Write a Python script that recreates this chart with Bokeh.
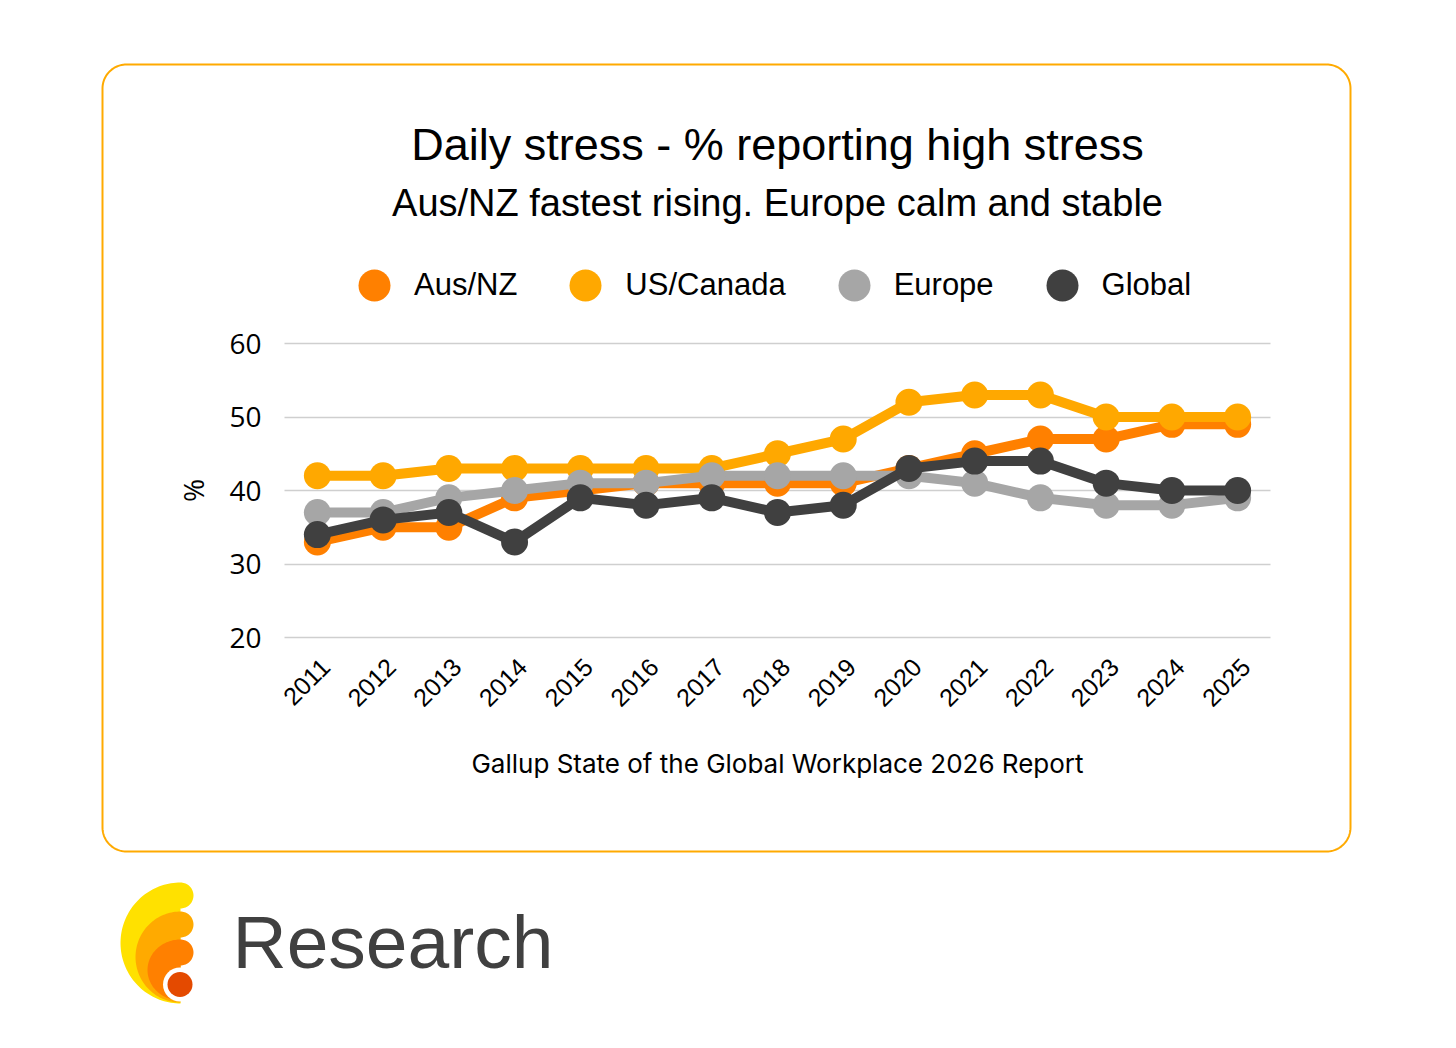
import numpy as np
from math import pi
from bokeh.plotting import figure
from bokeh.models import (Range1d, FixedTicker, Legend, LegendItem, Label,
                          LinearAxis)
from bokeh.embed import file_html
from bokeh.resources import INLINE

# ---------------- data ----------------
years = [2011, 2012, 2013, 2014, 2015, 2016, 2017, 2018, 2019, 2020,
         2021, 2022, 2023, 2024, 2025]
aus_nz = [33, 35, 35, 39, 40, 41, 41, 41, 41, 43, 45, 47, 47, 49, 49]
us_canada = [42, 42, 43, 43, 43, 43, 43, 45, 47, 52, 53, 53, 50, 50, 50]
europe = [37, 37, 39, 40, 41, 41, 42, 42, 42, 42, 41, 39, 38, 38, 39]
global_ = [34, 36, 37, 33, 39, 38, 39, 37, 38, 43, 44, 44, 41, 40, 40]
y_ticks = [20, 30, 40, 50, 60]

series_names = ["Aus/NZ", "US/Canada", "Europe", "Global"]
series_values = [aus_nz, us_canada, europe, global_]
series_colors = ["#FF8000", "#FFA800", "#A6A6A6", "#404040"]

title_text = "Daily stress - % reporting high stress"
subtitle_text = "Aus/NZ fastest rising. Europe calm and stable"
source_text = "Gallup State of the Global Workplace 2026 Report"
brand_text = "Research"

# ---------------- page geometry (pixels) ----------------
W, H = 1456, 1040
PLOT_L, PLOT_R = 284, 1270      # pixel span of x in [first-0.5, last+0.5]
PLOT_T, PLOT_B = 343, 637       # pixel span of y in [60, 20]

x0d, x1d = years[0] - 0.5, years[-1] + 0.5
xs_px = (PLOT_R - PLOT_L) / (x1d - x0d)
ys_px = (PLOT_B - PLOT_T) / (max(y_ticks) - min(y_ticks))
x_range = Range1d(x0d - PLOT_L / xs_px, x1d + (W - PLOT_R) / xs_px)
y_range = Range1d(min(y_ticks) - (H - PLOT_B) / ys_px,
                  max(y_ticks) + PLOT_T / ys_px)

p = figure(width=W, height=H, x_range=x_range, y_range=y_range,
           x_axis_location=None, y_axis_location=None,
           output_backend="svg", toolbar_location=None,
           min_border=0, min_border_left=0, min_border_right=0,
           min_border_top=0, min_border_bottom=0)
p.outline_line_color = None
p.background_fill_color = "white"
p.border_fill_color = "white"
p.grid.visible = False
p.extra_x_ranges = {"px": Range1d(0, W),
                    "xlab": Range1d(x_range.start - 8 / xs_px,
                                    x_range.end - 8 / xs_px)}
p.extra_y_ranges = {"px": Range1d(H, 0)}

# x axis (rotated year labels)
xax = LinearAxis(x_range_name="xlab", ticker=FixedTicker(ticks=years),
                 fixed_location=min(y_ticks))
xax.major_label_orientation = pi / 4
xax.major_label_text_font = "Liberation Sans"
xax.major_label_text_font_size = "25px"
xax.major_label_text_color = "black"
xax.major_label_standoff = 19
xax.axis_line_color = None
xax.major_tick_line_color = None
xax.minor_tick_line_color = None
p.add_layout(xax, "below")

# y axis; its inward major ticks form the horizontal gridlines
yax = LinearAxis(ticker=FixedTicker(ticks=y_ticks), fixed_location=x0d,
                 bounds=(min(y_ticks), max(y_ticks)), level="underlay")
yax.major_label_text_font = "Open Sans"
yax.major_label_text_font_size = "28px"
yax.major_label_text_color = "black"
yax.major_label_standoff = 23
yax.axis_line_color = None
yax.major_tick_in = PLOT_R - PLOT_L
yax.major_tick_out = 0
yax.major_tick_line_color = "#CFCFCF"
yax.major_tick_line_width = 1.5
yax.minor_tick_line_color = None
yax.axis_label = "%"
yax.axis_label_text_font = "Open Sans"
yax.axis_label_text_font_size = "28px"
yax.axis_label_text_font_style = "normal"
yax.axis_label_text_color = "black"
yax.axis_label_standoff = 14
p.add_layout(yax, "left")

# ---------------- card, titles ----------------


def rounded_rect(x0, y0, x1, y1, r):
    xs, ys = [], []
    corners = [(x1 - r, y0 + r, -pi / 2, 0), (x1 - r, y1 - r, 0, pi / 2),
               (x0 + r, y1 - r, pi / 2, pi), (x0 + r, y0 + r, pi, 1.5 * pi)]
    for cx, cy, a0, a1 in corners:
        a = np.linspace(a0, a1, 24)
        xs += list(cx + r * np.cos(a))
        ys += list(cy + r * np.sin(a))
    xs.append(xs[0])
    ys.append(ys[0])
    return xs, ys


cx_, cy_ = rounded_rect(102, 64, 1350, 851, 24)
p.line(cx_, cy_, line_color="#FFAA00", line_width=2,
       x_range_name="px", y_range_name="px")

BASE_SHIFT = 0.36   # Bokeh's rendered baseline sits this many em lower


def add_text(x, baseline, text, size, font, color="black", align="center"):
    p.add_layout(Label(x=x, y=baseline - BASE_SHIFT * size, text=text,
                       x_range_name="px", y_range_name="px",
                       text_align=align, text_baseline="alphabetic",
                       text_font=font, text_font_size=f"{size}px",
                       text_color=color))


add_text(777, 160, title_text, 45, "Liberation Sans")
add_text(777, 216, subtitle_text, 38, "Liberation Sans")
add_text(777, 772, source_text, 26, "Inter")

# ---------------- data series ----------------
markers = []
for name, vals, col in zip(series_names, series_values, series_colors):
    p.line(years, vals, line_width=10, line_color=col, line_join="round",
           line_cap="round")
    r = p.scatter(years, vals, size=27, fill_color=col, line_color=col,
                  line_width=0)
    markers.append(r)

legend = Legend(items=[LegendItem(label=n, renderers=[r])
                       for n, r in zip(series_names, markers)],
                orientation="horizontal", location=(334, H - 325),
                glyph_width=80, glyph_height=80, label_standoff=0,
                spacing=28, padding=0, margin=0,
                border_line_color=None, background_fill_alpha=0,
                label_text_font="Liberation Sans",
                label_text_font_size="31px", label_text_color="black")
p.add_layout(legend)

# ---------------- brand logo ----------------


def layer(cx, cy, rx, ry, capx, capy, r):
    a = np.linspace(-pi / 2, -3 * pi / 2, 80)
    xs = list(cx + rx * np.cos(a))
    ys = list(cy + ry * np.sin(a))
    b = np.linspace(pi / 2, -pi / 2, 40)
    xs += list(capx + r * np.cos(b))
    ys += list(capy + r * np.sin(b))
    return xs, ys


shapes = [
    ((180, 942.5, 60, 60.5, 180, 895, 13), "#FFE100"),
    ((180, 956.5, 45, 45.5, 180, 924, 13), "#FFAA00"),
    ((180, 969.5, 33, 30.5, 180, 952, 13), "#FF8000"),
]
for args, col in shapes:
    xs, ys = layer(*args)
    p.patch(xs, ys, fill_color=col, line_color=None,
            x_range_name="px", y_range_name="px")
p.circle(x=[179.5], y=[984], radius=17, fill_color="white", line_color=None,
         x_range_name="px", y_range_name="px")
p.circle(x=[179.5], y=[984], radius=12.5, fill_color="#E44A00",
         line_color=None, x_range_name="px", y_range_name="px")
add_text(232, 968, brand_text, 75, "Liberation Sans", color="#404040",
         align="left")

open("out.html", "w").write(file_html(p, INLINE))
